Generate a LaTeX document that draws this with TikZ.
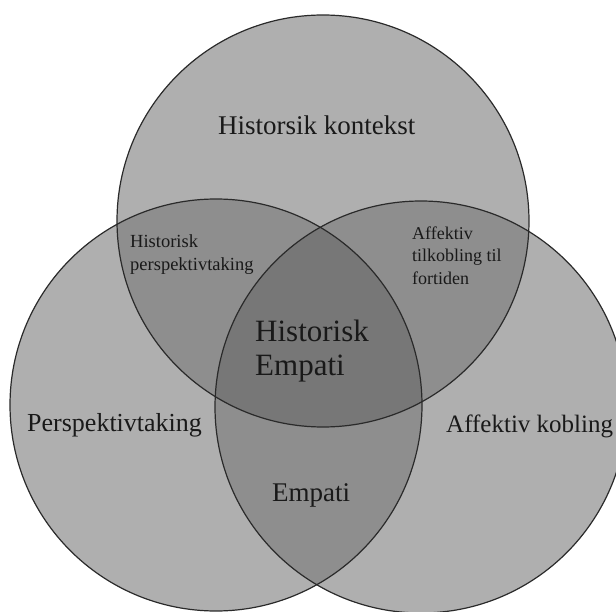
\documentclass[tikz,border=0pt]{standalone}
\usepackage{fontspec}
\setmainfont{Liberation Serif}
\usetikzlibrary{positioning}
\definecolor{VennOne}{HTML}{AFAFAF}
\definecolor{VennTwo}{HTML}{8E8E8E}
\definecolor{VennThree}{HTML}{777777}
\definecolor{VennLine}{HTML}{2A2A2A}

\begin{document}
\begin{tikzpicture}[
    x=1pt, y=-1pt,
    ring/.style={
      draw=VennLine,
      line width=1.2pt
    },
    bigtext/.style={
      inner sep=0pt,
      anchor=base west,
      text=black!90
    },
    smalltext/.style={
      inner sep=0pt,
      anchor=north west,
      align=left,
      text=black!90
    }
  ]
  \useasboundingbox (0,0) rectangle (616,612);
  \clip (0,0) rectangle (616,612);

  % centres of the three circles
  \coordinate (ctx) at (323,221);
  \coordinate (per) at (216,405);
  \coordinate (aff) at (421,407);

  % single areas
  \foreach \c in {ctx,per,aff}
    \fill[VennOne] (\c) circle (206pt);

  % pairwise overlaps
  \begin{scope}
    \clip (ctx) circle (206pt);
    \fill[VennTwo] (per) circle (206pt);
    \fill[VennTwo] (aff) circle (206pt);
  \end{scope}
  \begin{scope}
    \clip (per) circle (206pt);
    \fill[VennTwo] (aff) circle (206pt);
  \end{scope}

  % centre overlap
  \begin{scope}
    \clip (ctx) circle (206pt);
    \clip (per) circle (206pt);
    \fill[VennThree] (aff) circle (206pt);
  \end{scope}

  % outlines
  \foreach \c in {ctx,per,aff}
    \draw[ring] (\c) circle (206pt);

  % labels
  \node[bigtext, font=\fontsize{27}{30}\selectfont] (ctxlabel) at (218,134.8) {Historsik kontekst};
  \node[bigtext, font=\fontsize{26}{30}\selectfont] (perlabel) at (27,431) {Perspektivtaking};
  \node[bigtext, font=\fontsize{25}{30}\selectfont] (afflabel) at (446,432) {Affektiv kobling};
  \node[bigtext, font=\fontsize{27}{30}\selectfont] (emplabel) at (272,501) {Empati};
  \node[smalltext, font=\fontsize{31}{33.5}\selectfont] (midlabel) at (255,320) {Historisk\\Empati};
  \node[smalltext, font=\fontsize{18.5}{23.5}\selectfont] (hplabel) at (130,234.2) {Historisk\\perspektivtaking};
  \node[smalltext, font=\fontsize{18}{22.4}\selectfont] (atlabel) at (412,226.6) {Affektiv\\tilkobling til\\fortiden};
\end{tikzpicture}
\end{document}
